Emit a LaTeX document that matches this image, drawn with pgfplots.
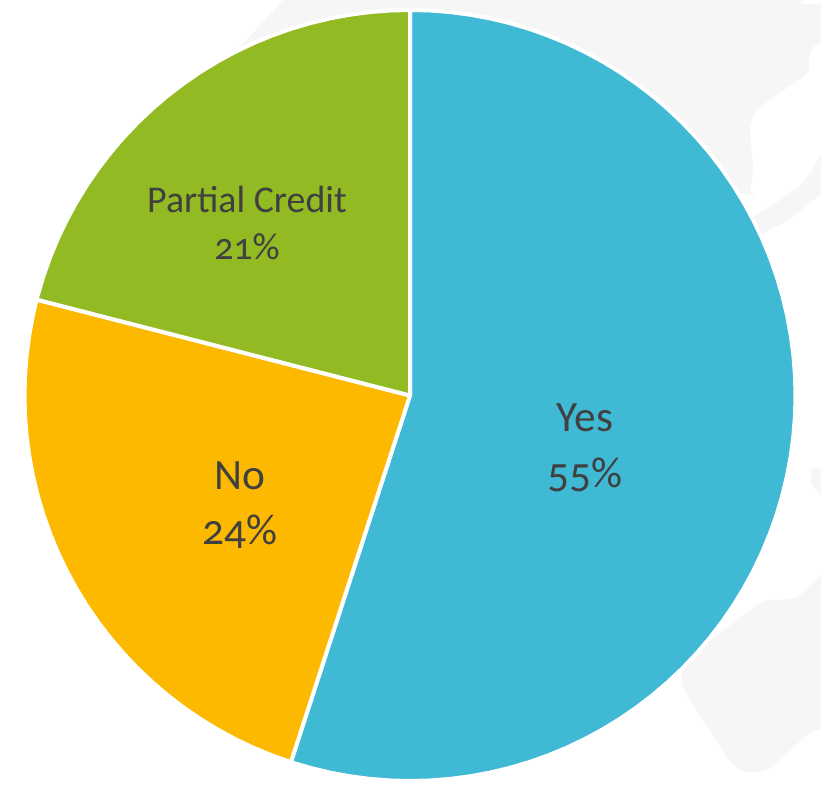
\documentclass[border=0pt]{standalone}
\usepackage{pgfplots}
\pgfplotsset{compat=1.18}
\usepackage{fontspec}
\setmainfont[Numbers=OldStyle]{Carlito}
\definecolor{sliceyes}{RGB}{64,185,212}
\definecolor{sliceno}{RGB}{253,185,0}
\definecolor{slicepartial}{RGB}{146,187,35}
\definecolor{backdrop}{RGB}{246,246,246}
\definecolor{labeltext}{RGB}{64,64,64}
\begin{document}
\begin{tikzpicture}
\useasboundingbox (0,0) rectangle (821bp,786bp);
\begin{axis}[
  at={(0,0)}, anchor=south west,
  scale only axis,
  width=821bp, height=786bp,
  xmin=-410, xmax=411,
  ymin=-390.5, ymax=395.5,
  hide axis,
  clip=true,
  every axis plot/.append style={line join=round},
]
% faint backdrop shapes
\addplot[fill=backdrop, draw=none, forget plot] coordinates {
  (-120,403) (-210,305) (0,100) (300,190) (340,205)
} --cycle;
\addplot[fill=backdrop, draw=none, smooth, tension=0.25, forget plot] coordinates {
  (0,300) (333,202) (340,205) (343,228) (340,268) (348,287)
  (397,322) (399,338) (403,348) (411,352) (420,352) (420,390) (390,392) (382,403) (0,403)
} --cycle;
\addplot[fill=backdrop, draw=none, forget plot] coordinates {
  (-120,403) (-200,300) (0,200) (0,403)
} --cycle;
\addplot[fill=backdrop, draw=none, smooth, tension=0.25, forget plot] coordinates {
  (344,180) (365,192) (390,210) (402,225) (411,242) (425,262)
  (425,215) (380,177) (353,162) (330,150)
} --cycle;
\addplot[fill=backdrop, draw=none, forget plot] coordinates {
  (401,-73.5) (420,-73.5) (420,-112) (401,-87.5)
} --cycle;
\addplot[fill=backdrop, draw=none, smooth, tension=0.25, forget plot] coordinates {
  (425,-170) (411,-179.5) (390,-199.5) (380,-203.5) (360,-204.5) (350,-207.5) (297,-247.5)
  (273,-274.5) (272,-287.5) (277,-299.5) (317,-361.5) (330,-374.5) (343,-377.5) (360,-372.5)
  (397,-339.5) (411,-332.5) (425,-325)
} --cycle;
% pie slices, outlines as (angle, radius)
\addplot[fill=sliceyes, draw=white, line width=4bp, data cs=polar, forget plot] coordinates {
  (0,0) (90,385.5) (87,385.5) (84,385.5) (81,385.5) (78,385.5) (75,385.5) (72,385.5) (69,385.5) (66,385.5) (63,385.5)
  (60,385.5) (57,385.5) (54,385.5) (51,385.5) (48,385.5) (45,385.5) (42,385.5) (39,385.5) (36,385.5) (33,385.5)
  (30,385.5) (27,385.5) (24,385.5) (21,385.5) (18,385.5) (15,385.5) (12,385.5) (9,385.5) (6,385.5) (3,385.5)
  (0,385.5) (-3,385.5) (-6,385.5) (-9,385.5) (-12,385.5) (-15,385.5) (-18,385.5) (-21,385.5) (-24,385.5) (-27,385.5)
  (-30,385.5) (-33,385.5) (-36,385.5) (-39,385.5) (-42,385.5) (-45,385.5) (-48,385.5) (-51,385.5) (-54,385.5) (-57,385.5)
  (-60,385.5) (-63,385.5) (-66,385.5) (-69,385.5) (-72,385.5) (-75,385.5) (-78,385.5) (-81,385.5) (-84,385.5) (-87,385.5)
  (-90,385.5) (-93,385.5) (-96,385.5) (-99,385.5) (-102,385.5) (-105,385.5) (-108,385.5)
} --cycle;
\addplot[fill=sliceno, draw=white, line width=4bp, data cs=polar, forget plot] coordinates {
  (0,0) (-108,385.5) (-111,385.5) (-114,385.5) (-117,385.5) (-120,385.5) (-123,385.5) (-126,385.5) (-129,385.5)
  (-132,385.5) (-135,385.5) (-138,385.5) (-141,385.5) (-144,385.5) (-147,385.5) (-150,385.5) (-153,385.5) (-156,385.5)
  (-159,385.5) (-162,385.5) (-165,385.5) (-168,385.5) (-171,385.5) (-174,385.5) (-177,385.5) (-180,385.5) (-183,385.5)
  (-186,385.5) (-189,385.5) (-192,385.5) (-194.4,385.5)
} --cycle;
\addplot[fill=slicepartial, draw=white, line width=4bp, data cs=polar, forget plot] coordinates {
  (0,0) (-194.4,385.5) (-195,385.5) (-198,385.5) (-201,385.5) (-204,385.5) (-207,385.5) (-210,385.5) (-213,385.5)
  (-216,385.5) (-219,385.5) (-222,385.5) (-225,385.5) (-228,385.5) (-231,385.5) (-234,385.5) (-237,385.5) (-240,385.5)
  (-243,385.5) (-246,385.5) (-249,385.5) (-252,385.5) (-255,385.5) (-258,385.5) (-261,385.5) (-264,385.5) (-267,385.5)
  (-270,385.5)
} --cycle;
% slice labels
\node[text=labeltext, font=\fontsize{43.5}{43.5}\selectfont] at (axis cs:175,-22.5) {Yes};
\node[text=labeltext, font=\fontsize{43.5}{43.5}\selectfont] at (axis cs:175,-79.5) {55\%};
\node[text=labeltext, font=\fontsize{43.5}{43.5}\selectfont] at (axis cs:-170,-80.5) {No};
\node[text=labeltext, font=\fontsize{43.5}{43.5}\selectfont] at (axis cs:-170,-136.5) {24\%};
\node[text=labeltext, font=\fontsize{38}{38}\selectfont] at (axis cs:-163,195.5) {Partial Credit};
\node[text=labeltext, font=\fontsize{38}{38}\selectfont] at (axis cs:-163,148.5) {21\%};
\end{axis}
\end{tikzpicture}
\end{document}
